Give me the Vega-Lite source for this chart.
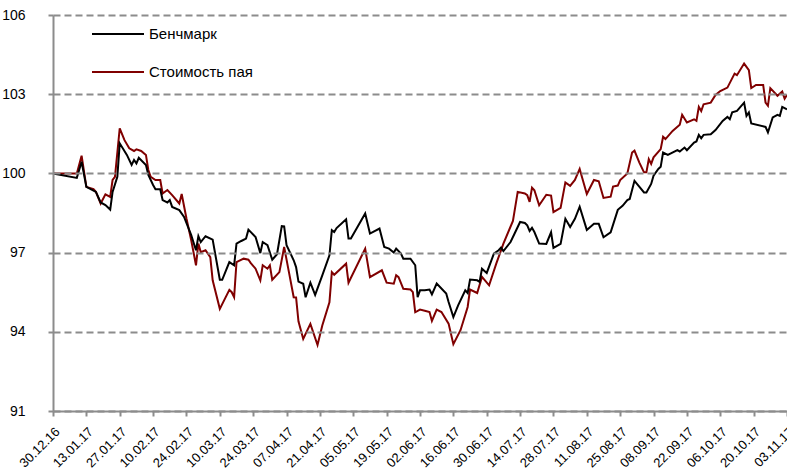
{
"$schema": "https://vega.github.io/schema/vega-lite/v6.json",
"width": 734, "height": 396,
"autosize": {"type": "none"},
"padding": {"left": 53, "top": 15, "right": 0, "bottom": 59},
"background": "white",
"config": {"view": {"stroke": null}, "font": "Liberation Sans"},
"data": {"values": [
{"d":"2016-12-30","s":"Стоимость пая","v":100.0},
{"d":"2017-01-09","s":"Стоимость пая","v":100.0},
{"d":"2017-01-11","s":"Стоимость пая","v":100.67},
{"d":"2017-01-13","s":"Стоимость пая","v":99.49},
{"d":"2017-01-16","s":"Стоимость пая","v":99.40},
{"d":"2017-01-17","s":"Стоимость пая","v":99.30},
{"d":"2017-01-19","s":"Стоимость пая","v":98.86},
{"d":"2017-01-21","s":"Стоимость пая","v":99.21},
{"d":"2017-01-23","s":"Стоимость пая","v":99.11},
{"d":"2017-01-24","s":"Стоимость пая","v":99.75},
{"d":"2017-01-25","s":"Стоимость пая","v":99.87},
{"d":"2017-01-27","s":"Стоимость пая","v":101.71},
{"d":"2017-01-29","s":"Стоимость пая","v":101.26},
{"d":"2017-01-31","s":"Стоимость пая","v":100.95},
{"d":"2017-02-02","s":"Стоимость пая","v":100.85},
{"d":"2017-02-03","s":"Стоимость пая","v":100.91},
{"d":"2017-02-05","s":"Стоимость пая","v":100.85},
{"d":"2017-02-07","s":"Стоимость пая","v":100.70},
{"d":"2017-02-08","s":"Стоимость пая","v":100.13},
{"d":"2017-02-09","s":"Стоимость пая","v":99.87},
{"d":"2017-02-11","s":"Стоимость пая","v":99.75},
{"d":"2017-02-13","s":"Стоимость пая","v":99.75},
{"d":"2017-02-14","s":"Стоимость пая","v":99.24},
{"d":"2017-02-16","s":"Стоимость пая","v":99.37},
{"d":"2017-02-18","s":"Стоимость пая","v":99.18},
{"d":"2017-02-21","s":"Стоимость пая","v":98.86},
{"d":"2017-02-22","s":"Стоимость пая","v":99.22},
{"d":"2017-02-24","s":"Стоимость пая","v":98.29},
{"d":"2017-02-26","s":"Стоимость пая","v":97.47},
{"d":"2017-02-28","s":"Стоимость пая","v":96.52},
{"d":"2017-03-01","s":"Стоимость пая","v":97.34},
{"d":"2017-03-02","s":"Стоимость пая","v":97.02},
{"d":"2017-03-04","s":"Стоимость пая","v":97.09},
{"d":"2017-03-06","s":"Стоимость пая","v":96.83},
{"d":"2017-03-07","s":"Стоимость пая","v":95.95},
{"d":"2017-03-10","s":"Стоимость пая","v":94.87},
{"d":"2017-03-14","s":"Стоимость пая","v":95.59},
{"d":"2017-03-15","s":"Стоимость пая","v":95.50},
{"d":"2017-03-16","s":"Стоимость пая","v":95.31},
{"d":"2017-03-17","s":"Стоимость пая","v":96.64},
{"d":"2017-03-20","s":"Стоимость пая","v":96.77},
{"d":"2017-03-22","s":"Стоимость пая","v":96.73},
{"d":"2017-03-23","s":"Стоимость пая","v":96.60},
{"d":"2017-03-25","s":"Стоимость пая","v":96.39},
{"d":"2017-03-27","s":"Стоимость пая","v":95.95},
{"d":"2017-03-28","s":"Стоимость пая","v":96.52},
{"d":"2017-03-30","s":"Стоимость пая","v":96.39},
{"d":"2017-03-31","s":"Стоимость пая","v":96.52},
{"d":"2017-04-01","s":"Стоимость пая","v":95.97},
{"d":"2017-04-04","s":"Стоимость пая","v":96.26},
{"d":"2017-04-06","s":"Стоимость пая","v":97.21},
{"d":"2017-04-08","s":"Стоимость пая","v":96.26},
{"d":"2017-04-10","s":"Стоимость пая","v":95.31},
{"d":"2017-04-11","s":"Стоимость пая","v":95.30},
{"d":"2017-04-12","s":"Стоимость пая","v":94.40},
{"d":"2017-04-14","s":"Стоимость пая","v":93.73},
{"d":"2017-04-17","s":"Стоимость пая","v":94.30},
{"d":"2017-04-20","s":"Стоимость пая","v":93.50},
{"d":"2017-04-22","s":"Стоимость пая","v":94.24},
{"d":"2017-04-25","s":"Стоимость пая","v":95.12},
{"d":"2017-04-26","s":"Стоимость пая","v":96.26},
{"d":"2017-04-27","s":"Стоимость пая","v":96.16},
{"d":"2017-05-02","s":"Стоимость пая","v":96.58},
{"d":"2017-05-03","s":"Стоимость пая","v":95.86},
{"d":"2017-05-10","s":"Стоимость пая","v":97.15},
{"d":"2017-05-12","s":"Стоимость пая","v":96.07},
{"d":"2017-05-17","s":"Стоимость пая","v":96.33},
{"d":"2017-05-19","s":"Стоимость пая","v":95.86},
{"d":"2017-05-22","s":"Стоимость пая","v":95.82},
{"d":"2017-05-23","s":"Стоимость пая","v":96.14},
{"d":"2017-05-24","s":"Стоимость пая","v":96.07},
{"d":"2017-05-26","s":"Стоимость пая","v":95.63},
{"d":"2017-05-29","s":"Стоимость пая","v":95.60},
{"d":"2017-05-30","s":"Стоимость пая","v":95.50},
{"d":"2017-05-31","s":"Стоимость пая","v":94.74},
{"d":"2017-06-02","s":"Стоимость пая","v":94.84},
{"d":"2017-06-04","s":"Стоимость пая","v":94.80},
{"d":"2017-06-06","s":"Стоимость пая","v":94.75},
{"d":"2017-06-07","s":"Стоимость пая","v":94.41},
{"d":"2017-06-09","s":"Стоимость пая","v":94.84},
{"d":"2017-06-11","s":"Стоимость пая","v":94.75},
{"d":"2017-06-14","s":"Стоимость пая","v":94.31},
{"d":"2017-06-16","s":"Стоимость пая","v":93.53},
{"d":"2017-06-19","s":"Стоимость пая","v":94.06},
{"d":"2017-06-22","s":"Стоимость пая","v":94.94},
{"d":"2017-06-23","s":"Стоимость пая","v":95.60},
{"d":"2017-06-26","s":"Стоимость пая","v":95.47},
{"d":"2017-06-28","s":"Стоимость пая","v":96.08},
{"d":"2017-07-01","s":"Стоимость пая","v":95.76},
{"d":"2017-07-04","s":"Стоимость пая","v":96.58},
{"d":"2017-07-07","s":"Стоимость пая","v":97.34},
{"d":"2017-07-11","s":"Стоимость пая","v":98.20},
{"d":"2017-07-13","s":"Стоимость пая","v":99.30},
{"d":"2017-07-16","s":"Стоимость пая","v":99.24},
{"d":"2017-07-17","s":"Стоимость пая","v":99.18},
{"d":"2017-07-18","s":"Стоимость пая","v":98.92},
{"d":"2017-07-19","s":"Стоимость пая","v":99.46},
{"d":"2017-07-20","s":"Стоимость пая","v":99.36},
{"d":"2017-07-22","s":"Стоимость пая","v":98.79},
{"d":"2017-07-25","s":"Стоимость пая","v":99.19},
{"d":"2017-07-27","s":"Стоимость пая","v":99.16},
{"d":"2017-07-28","s":"Стоимость пая","v":98.53},
{"d":"2017-07-31","s":"Стоимость пая","v":98.69},
{"d":"2017-08-02","s":"Стоимость пая","v":99.66},
{"d":"2017-08-04","s":"Стоимость пая","v":99.53},
{"d":"2017-08-06","s":"Стоимость пая","v":99.75},
{"d":"2017-08-08","s":"Стоимость пая","v":100.17},
{"d":"2017-08-11","s":"Стоимость пая","v":99.22},
{"d":"2017-08-14","s":"Стоимость пая","v":99.75},
{"d":"2017-08-16","s":"Стоимость пая","v":99.70},
{"d":"2017-08-18","s":"Стоимость пая","v":99.07},
{"d":"2017-08-21","s":"Стоимость пая","v":99.12},
{"d":"2017-08-22","s":"Стоимость пая","v":99.50},
{"d":"2017-08-24","s":"Стоимость пая","v":99.54},
{"d":"2017-08-25","s":"Стоимость пая","v":99.75},
{"d":"2017-08-28","s":"Стоимость пая","v":100.0},
{"d":"2017-08-30","s":"Стоимость пая","v":100.79},
{"d":"2017-08-31","s":"Стоимость пая","v":100.86},
{"d":"2017-09-02","s":"Стоимость пая","v":100.42},
{"d":"2017-09-04","s":"Стоимость пая","v":100.04},
{"d":"2017-09-05","s":"Стоимость пая","v":100.04},
{"d":"2017-09-06","s":"Стоимость пая","v":100.54},
{"d":"2017-09-07","s":"Стоимость пая","v":100.36},
{"d":"2017-09-08","s":"Стоимость пая","v":100.61},
{"d":"2017-09-11","s":"Стоимость пая","v":100.92},
{"d":"2017-09-12","s":"Стоимость пая","v":101.39},
{"d":"2017-09-13","s":"Стоимость пая","v":101.30},
{"d":"2017-09-16","s":"Стоимость пая","v":101.61},
{"d":"2017-09-19","s":"Стоимость пая","v":101.84},
{"d":"2017-09-20","s":"Стоимость пая","v":102.22},
{"d":"2017-09-22","s":"Стоимость пая","v":101.93},
{"d":"2017-09-25","s":"Стоимость пая","v":102.05},
{"d":"2017-09-26","s":"Стоимость пая","v":101.99},
{"d":"2017-09-27","s":"Стоимость пая","v":102.52},
{"d":"2017-09-28","s":"Стоимость пая","v":102.36},
{"d":"2017-09-29","s":"Стоимость пая","v":102.62},
{"d":"2017-10-02","s":"Стоимость пая","v":102.68},
{"d":"2017-10-04","s":"Стоимость пая","v":102.97},
{"d":"2017-10-06","s":"Стоимость пая","v":103.12},
{"d":"2017-10-09","s":"Стоимость пая","v":103.25},
{"d":"2017-10-12","s":"Стоимость пая","v":103.78},
{"d":"2017-10-13","s":"Стоимость пая","v":103.72},
{"d":"2017-10-16","s":"Стоимость пая","v":104.16},
{"d":"2017-10-18","s":"Стоимость пая","v":103.91},
{"d":"2017-10-19","s":"Стоимость пая","v":103.23},
{"d":"2017-10-21","s":"Стоимость пая","v":103.35},
{"d":"2017-10-24","s":"Стоимость пая","v":103.35},
{"d":"2017-10-25","s":"Стоимость пая","v":102.68},
{"d":"2017-10-26","s":"Стоимость пая","v":102.56},
{"d":"2017-10-27","s":"Стоимость пая","v":103.23},
{"d":"2017-10-30","s":"Стоимость пая","v":102.94},
{"d":"2017-11-01","s":"Стоимость пая","v":103.10},
{"d":"2017-11-02","s":"Стоимость пая","v":102.83},
{"d":"2017-11-03","s":"Стоимость пая","v":102.98},
{"d":"2016-12-30","s":"Бенчмарк","v":100.0},
{"d":"2017-01-09","s":"Бенчмарк","v":99.83},
{"d":"2017-01-11","s":"Бенчмарк","v":100.44},
{"d":"2017-01-13","s":"Бенчмарк","v":99.49},
{"d":"2017-01-17","s":"Бенчмарк","v":99.30},
{"d":"2017-01-19","s":"Бенчмарк","v":98.90},
{"d":"2017-01-21","s":"Бенчмарк","v":98.80},
{"d":"2017-01-23","s":"Бенчмарк","v":98.63},
{"d":"2017-01-24","s":"Бенчмарк","v":99.30},
{"d":"2017-01-26","s":"Бенчмарк","v":99.87},
{"d":"2017-01-27","s":"Бенчмарк","v":101.14},
{"d":"2017-01-30","s":"Бенчмарк","v":100.70},
{"d":"2017-02-01","s":"Бенчмарк","v":100.32},
{"d":"2017-02-02","s":"Бенчмарк","v":100.51},
{"d":"2017-02-03","s":"Бенчмарк","v":100.38},
{"d":"2017-02-04","s":"Бенчмарк","v":100.59},
{"d":"2017-02-07","s":"Бенчмарк","v":100.32},
{"d":"2017-02-08","s":"Бенчмарк","v":99.94},
{"d":"2017-02-10","s":"Бенчмарк","v":99.56},
{"d":"2017-02-11","s":"Бенчмарк","v":99.40},
{"d":"2017-02-13","s":"Бенчмарк","v":99.40},
{"d":"2017-02-14","s":"Бенчмарк","v":98.99},
{"d":"2017-02-16","s":"Бенчмарк","v":98.90},
{"d":"2017-02-17","s":"Бенчмарк","v":98.99},
{"d":"2017-02-18","s":"Бенчмарк","v":98.73},
{"d":"2017-02-21","s":"Бенчмарк","v":98.61},
{"d":"2017-02-23","s":"Бенчмарк","v":98.35},
{"d":"2017-02-26","s":"Бенчмарк","v":97.66},
{"d":"2017-02-28","s":"Бенчмарк","v":97.09},
{"d":"2017-03-01","s":"Бенчмарк","v":97.62},
{"d":"2017-03-02","s":"Бенчмарк","v":97.40},
{"d":"2017-03-04","s":"Бенчмарк","v":97.62},
{"d":"2017-03-07","s":"Бенчмарк","v":97.49},
{"d":"2017-03-10","s":"Бенчмарк","v":95.97},
{"d":"2017-03-11","s":"Бенчмарк","v":95.97},
{"d":"2017-03-14","s":"Бенчмарк","v":96.64},
{"d":"2017-03-16","s":"Бенчмарк","v":96.52},
{"d":"2017-03-17","s":"Бенчмарк","v":97.34},
{"d":"2017-03-19","s":"Бенчмарк","v":97.44},
{"d":"2017-03-21","s":"Бенчмарк","v":97.53},
{"d":"2017-03-22","s":"Бенчмарк","v":97.87},
{"d":"2017-03-25","s":"Бенчмарк","v":97.59},
{"d":"2017-03-27","s":"Бенчмарк","v":96.98},
{"d":"2017-03-28","s":"Бенчмарк","v":97.40},
{"d":"2017-03-30","s":"Бенчмарк","v":97.28},
{"d":"2017-04-01","s":"Бенчмарк","v":96.73},
{"d":"2017-04-03","s":"Бенчмарк","v":96.94},
{"d":"2017-04-05","s":"Бенчмарк","v":98.00},
{"d":"2017-04-06","s":"Бенчмарк","v":97.99},
{"d":"2017-04-07","s":"Бенчмарк","v":97.28},
{"d":"2017-04-10","s":"Бенчмарк","v":96.71},
{"d":"2017-04-11","s":"Бенчмарк","v":96.45},
{"d":"2017-04-12","s":"Бенчмарк","v":95.90},
{"d":"2017-04-14","s":"Бенчмарк","v":95.82},
{"d":"2017-04-15","s":"Бенчмарк","v":95.31},
{"d":"2017-04-17","s":"Бенчмарк","v":95.86},
{"d":"2017-04-19","s":"Бенчмарк","v":95.40},
{"d":"2017-04-22","s":"Бенчмарк","v":96.14},
{"d":"2017-04-25","s":"Бенчмарк","v":96.90},
{"d":"2017-04-26","s":"Бенчмарк","v":97.85},
{"d":"2017-04-27","s":"Бенчмарк","v":97.78},
{"d":"2017-04-28","s":"Бенчмарк","v":97.93},
{"d":"2017-05-02","s":"Бенчмарк","v":98.26},
{"d":"2017-05-03","s":"Бенчмарк","v":97.53},
{"d":"2017-05-04","s":"Бенчмарк","v":97.53},
{"d":"2017-05-10","s":"Бенчмарк","v":98.48},
{"d":"2017-05-12","s":"Бенчмарк","v":97.72},
{"d":"2017-05-16","s":"Бенчмарк","v":97.91},
{"d":"2017-05-18","s":"Бенчмарк","v":97.21},
{"d":"2017-05-20","s":"Бенчмарк","v":97.15},
{"d":"2017-05-22","s":"Бенчмарк","v":97.00},
{"d":"2017-05-23","s":"Бенчмарк","v":97.15},
{"d":"2017-05-25","s":"Бенчмарк","v":96.96},
{"d":"2017-05-26","s":"Бенчмарк","v":96.77},
{"d":"2017-05-29","s":"Бенчмарк","v":96.77},
{"d":"2017-05-31","s":"Бенчмарк","v":96.52},
{"d":"2017-06-01","s":"Бенчмарк","v":95.31},
{"d":"2017-06-02","s":"Бенчмарк","v":95.57},
{"d":"2017-06-04","s":"Бенчмарк","v":95.57},
{"d":"2017-06-06","s":"Бенчмарк","v":95.60},
{"d":"2017-06-07","s":"Бенчмарк","v":95.42},
{"d":"2017-06-09","s":"Бенчмарк","v":95.83},
{"d":"2017-06-13","s":"Бенчмарк","v":95.45},
{"d":"2017-06-14","s":"Бенчмарк","v":95.13},
{"d":"2017-06-16","s":"Бенчмарк","v":94.56},
{"d":"2017-06-18","s":"Бенчмарк","v":95.00},
{"d":"2017-06-21","s":"Бенчмарк","v":95.57},
{"d":"2017-06-22","s":"Бенчмарк","v":95.47},
{"d":"2017-06-23","s":"Бенчмарк","v":95.98},
{"d":"2017-06-26","s":"Бенчмарк","v":95.95},
{"d":"2017-06-27","s":"Бенчмарк","v":95.89},
{"d":"2017-06-28","s":"Бенчмарк","v":96.39},
{"d":"2017-06-30","s":"Бенчмарк","v":96.23},
{"d":"2017-07-03","s":"Бенчмарк","v":96.96},
{"d":"2017-07-05","s":"Бенчмарк","v":97.09},
{"d":"2017-07-06","s":"Бенчмарк","v":97.19},
{"d":"2017-07-07","s":"Бенчмарк","v":97.06},
{"d":"2017-07-10","s":"Бенчмарк","v":97.40},
{"d":"2017-07-12","s":"Бенчмарк","v":97.78},
{"d":"2017-07-14","s":"Бенчмарк","v":98.16},
{"d":"2017-07-16","s":"Бенчмарк","v":98.12},
{"d":"2017-07-17","s":"Бенчмарк","v":98.03},
{"d":"2017-07-18","s":"Бенчмарк","v":97.82},
{"d":"2017-07-19","s":"Бенчмарк","v":97.94},
{"d":"2017-07-20","s":"Бенчмарк","v":97.78},
{"d":"2017-07-22","s":"Бенчмарк","v":97.34},
{"d":"2017-07-25","s":"Бенчмарк","v":97.33},
{"d":"2017-07-27","s":"Бенчмарк","v":97.77},
{"d":"2017-07-28","s":"Бенчмарк","v":97.18},
{"d":"2017-07-31","s":"Бенчмарк","v":97.33},
{"d":"2017-08-02","s":"Бенчмарк","v":98.28},
{"d":"2017-08-04","s":"Бенчмарк","v":97.97},
{"d":"2017-08-06","s":"Бенчмарк","v":98.28},
{"d":"2017-08-08","s":"Бенчмарк","v":98.74},
{"d":"2017-08-11","s":"Бенчмарк","v":97.86},
{"d":"2017-08-14","s":"Бенчмарк","v":98.09},
{"d":"2017-08-16","s":"Бенчмарк","v":98.09},
{"d":"2017-08-18","s":"Бенчмарк","v":97.58},
{"d":"2017-08-21","s":"Бенчмарк","v":97.77},
{"d":"2017-08-24","s":"Бенчмарк","v":98.62},
{"d":"2017-08-26","s":"Бенчмарк","v":98.77},
{"d":"2017-08-28","s":"Бенчмарк","v":98.99},
{"d":"2017-08-29","s":"Бенчмарк","v":99.03},
{"d":"2017-08-31","s":"Бенчмарк","v":99.72},
{"d":"2017-09-02","s":"Бенчмарк","v":99.50},
{"d":"2017-09-04","s":"Бенчмарк","v":99.28},
{"d":"2017-09-05","s":"Бенчмарк","v":99.28},
{"d":"2017-09-07","s":"Бенчмарк","v":99.60},
{"d":"2017-09-08","s":"Бенчмарк","v":99.91},
{"d":"2017-09-10","s":"Бенчмарк","v":100.17},
{"d":"2017-09-11","s":"Бенчмарк","v":100.25},
{"d":"2017-09-12","s":"Бенчмарк","v":100.79},
{"d":"2017-09-14","s":"Бенчмарк","v":100.70},
{"d":"2017-09-18","s":"Бенчмарк","v":100.88},
{"d":"2017-09-19","s":"Бенчмарк","v":100.83},
{"d":"2017-09-21","s":"Бенчмарк","v":100.98},
{"d":"2017-09-22","s":"Бенчмарк","v":100.88},
{"d":"2017-09-25","s":"Бенчмарк","v":101.17},
{"d":"2017-09-26","s":"Бенчмарк","v":101.21},
{"d":"2017-09-27","s":"Бенчмарк","v":101.46},
{"d":"2017-09-28","s":"Бенчмарк","v":101.33},
{"d":"2017-09-29","s":"Бенчмарк","v":101.46},
{"d":"2017-10-02","s":"Бенчмарк","v":101.48},
{"d":"2017-10-04","s":"Бенчмарк","v":101.64},
{"d":"2017-10-07","s":"Бенчмарк","v":101.99},
{"d":"2017-10-09","s":"Бенчмарк","v":102.14},
{"d":"2017-10-10","s":"Бенчмарк","v":102.05},
{"d":"2017-10-11","s":"Бенчмарк","v":102.31},
{"d":"2017-10-13","s":"Бенчмарк","v":102.37},
{"d":"2017-10-16","s":"Бенчмарк","v":102.68},
{"d":"2017-10-17","s":"Бенчмарк","v":102.18},
{"d":"2017-10-18","s":"Бенчмарк","v":102.31},
{"d":"2017-10-19","s":"Бенчмарк","v":101.89},
{"d":"2017-10-25","s":"Бенчмарк","v":101.76},
{"d":"2017-10-26","s":"Бенчмарк","v":101.55},
{"d":"2017-10-28","s":"Бенчмарк","v":102.12},
{"d":"2017-10-30","s":"Бенчмарк","v":102.22},
{"d":"2017-10-31","s":"Бенчмарк","v":102.18},
{"d":"2017-11-01","s":"Бенчмарк","v":102.52},
{"d":"2017-11-03","s":"Бенчмарк","v":102.43}
]},
"mark": {"type": "line", "strokeWidth": 2},
"encoding": {
 "x": {"field": "d", "type": "temporal",
  "scale": {"type": "utc", "domain": [{"year": 2016, "month": 12, "date": 30, "utc": true}, {"year": 2017, "month": 11, "date": 3, "utc": true}]},
  "axis": {"title": null, "grid": false, "domain": true, "ticks": true, "zindex": 1,
   "labelExpr": "utcFormat(datum.value, '%d.%m.%y')",
   "values": [
    {"year":2016,"month":12,"date":30,"utc":true},
    {"year":2017,"month":1,"date":13,"utc":true},
    {"year":2017,"month":1,"date":27,"utc":true},
    {"year":2017,"month":2,"date":10,"utc":true},
    {"year":2017,"month":2,"date":24,"utc":true},
    {"year":2017,"month":3,"date":10,"utc":true},
    {"year":2017,"month":3,"date":24,"utc":true},
    {"year":2017,"month":4,"date":7,"utc":true},
    {"year":2017,"month":4,"date":21,"utc":true},
    {"year":2017,"month":5,"date":5,"utc":true},
    {"year":2017,"month":5,"date":19,"utc":true},
    {"year":2017,"month":6,"date":2,"utc":true},
    {"year":2017,"month":6,"date":16,"utc":true},
    {"year":2017,"month":6,"date":30,"utc":true},
    {"year":2017,"month":7,"date":14,"utc":true},
    {"year":2017,"month":7,"date":28,"utc":true},
    {"year":2017,"month":8,"date":11,"utc":true},
    {"year":2017,"month":8,"date":25,"utc":true},
    {"year":2017,"month":9,"date":8,"utc":true},
    {"year":2017,"month":9,"date":22,"utc":true},
    {"year":2017,"month":10,"date":6,"utc":true},
    {"year":2017,"month":10,"date":20,"utc":true},
    {"year":2017,"month":11,"date":3,"utc":true}],
   "labelAngle": -45, "labelFontSize": 13, "labelColor": "#000000", "labelOverlap": false, "labelFlush": false, "labelBound": false, "labelPadding": 9,
   "domainColor": "#8c8c8c", "domainWidth": 2, "tickColor": "#8c8c8c", "tickWidth": 2, "tickSize": 5}},
 "y": {"field": "v", "type": "quantitative",
  "scale": {"domain": [91, 106], "nice": false, "zero": false},
  "axis": {"title": null, "values": [91, 94, 97, 100, 103, 106], "grid": true, "gridDash": [7, 4], "gridColor": "#8c8c8c", "gridWidth": 2,
   "domain": true, "ticks": true, "zindex": 1, "domainColor": "#8c8c8c", "domainWidth": 2, "tickColor": "#8c8c8c", "tickWidth": 2, "tickSize": 5,
   "labelFontSize": 14, "labelColor": "#000000", "labelPadding": 23}},
 "color": {"field": "s", "type": "nominal",
  "scale": {"domain": ["Бенчмарк", "Стоимость пая"], "range": ["#000000", "#800000"]},
  "legend": {"title": null, "orient": "none", "legendX": 38, "legendY": -8, "padding": 0, "symbolType": "stroke", "symbolSize": 2704, "symbolStrokeWidth": 2, "labelFontSize": 15, "labelColor": "#000000", "labelOffset": 4, "rowPadding": 3}}
}
}
